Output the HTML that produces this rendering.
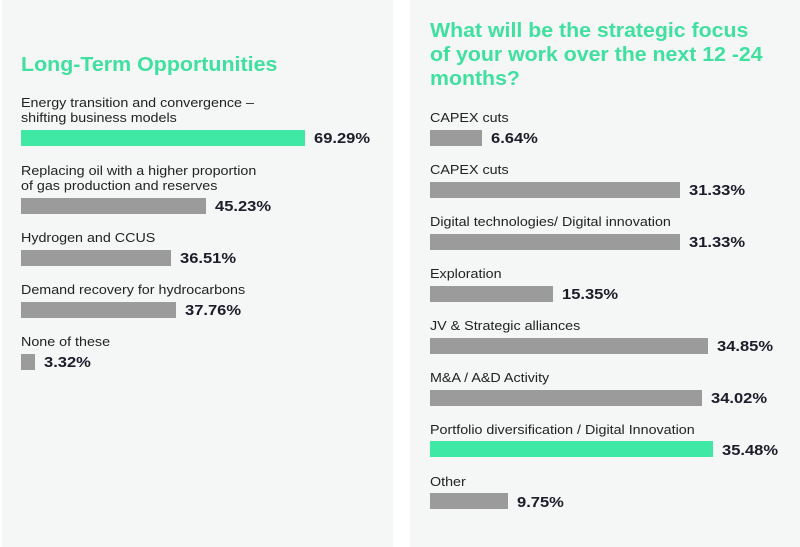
<!DOCTYPE html>
<html><head><meta charset="utf-8"><style>
body{margin:0;width:800px;height:547px;background:#fff;position:relative;overflow:hidden;font-family:"Liberation Sans",sans-serif}
.p{position:absolute;background:#f5f6f6;top:0}
.t{position:absolute;color:#40e0a0;font-weight:bold;font-size:20px;line-height:24px;white-space:nowrap;transform-origin:0 0}
.l{position:absolute;font-size:13px;line-height:15px;color:#222;white-space:nowrap;transform:scaleX(1.1);transform-origin:0 0}
.b{position:absolute;height:16px;background:#9b9b9b}
.g{background:#40e8a6}
.v{position:absolute;font-size:14.5px;font-weight:bold;color:#1c1c2a;line-height:16px;transform:scaleX(1.14);transform-origin:0 0}
</style></head><body>
<div class="p" style="left:2px;width:391px;height:547px"></div>
<div class="p" style="left:410px;width:390px;height:547px"></div>
<div class="t" style="left:21px;top:53px;transform:scaleX(1.07)">Long-Term Opportunities</div>
<div class="l" style="left:21px;top:95px">Energy transition and convergence –<br>shifting business models</div>
<div class="b g" style="left:21px;top:130px;width:284px"></div><div class="v" style="left:314px;top:131px">69.29%</div>
<div class="l" style="left:21px;top:163px">Replacing oil with a higher proportion<br>of gas production and reserves</div>
<div class="b" style="left:21px;top:198px;width:185px"></div><div class="v" style="left:215px;top:199px">45.23%</div>
<div class="l" style="left:21px;top:230px">Hydrogen and CCUS</div>
<div class="b" style="left:21px;top:250px;width:150px"></div><div class="v" style="left:180px;top:251px">36.51%</div>
<div class="l" style="left:21px;top:282px">Demand recovery for hydrocarbons</div>
<div class="b" style="left:21px;top:302px;width:155px"></div><div class="v" style="left:185px;top:303px">37.76%</div>
<div class="l" style="left:21px;top:334px">None of these</div>
<div class="b" style="left:21px;top:354px;width:14px"></div><div class="v" style="left:44px;top:355px">3.32%</div>

<div class="t" style="left:430px;top:19px;transform:scaleX(1.065)">What will be the strategic focus<br>of your work over the next 12 -24<br>months?</div>
<div class="l" style="left:430px;top:110px">CAPEX cuts</div>
<div class="b" style="left:430px;top:130px;width:52px"></div><div class="v" style="left:491px;top:131px">6.64%</div>
<div class="l" style="left:430px;top:162px">CAPEX cuts</div>
<div class="b" style="left:430px;top:182px;width:250px"></div><div class="v" style="left:689px;top:183px">31.33%</div>
<div class="l" style="left:430px;top:214px">Digital technologies/ Digital innovation</div>
<div class="b" style="left:430px;top:234px;width:250px"></div><div class="v" style="left:689px;top:235px">31.33%</div>
<div class="l" style="left:430px;top:266px">Exploration</div>
<div class="b" style="left:430px;top:286px;width:123px"></div><div class="v" style="left:562px;top:287px">15.35%</div>
<div class="l" style="left:430px;top:318px">JV &amp; Strategic alliances</div>
<div class="b" style="left:430px;top:338px;width:278px"></div><div class="v" style="left:717px;top:339px">34.85%</div>
<div class="l" style="left:430px;top:370px">M&amp;A / A&amp;D Activity</div>
<div class="b" style="left:430px;top:390px;width:272px"></div><div class="v" style="left:711px;top:391px">34.02%</div>
<div class="l" style="left:430px;top:422px">Portfolio diversification / Digital Innovation</div>
<div class="b g" style="left:430px;top:441px;width:283px"></div><div class="v" style="left:722px;top:443px">35.48%</div>
<div class="l" style="left:430px;top:474px">Other</div>
<div class="b" style="left:430px;top:493px;width:78px"></div><div class="v" style="left:517px;top:495px">9.75%</div>
</body></html>
